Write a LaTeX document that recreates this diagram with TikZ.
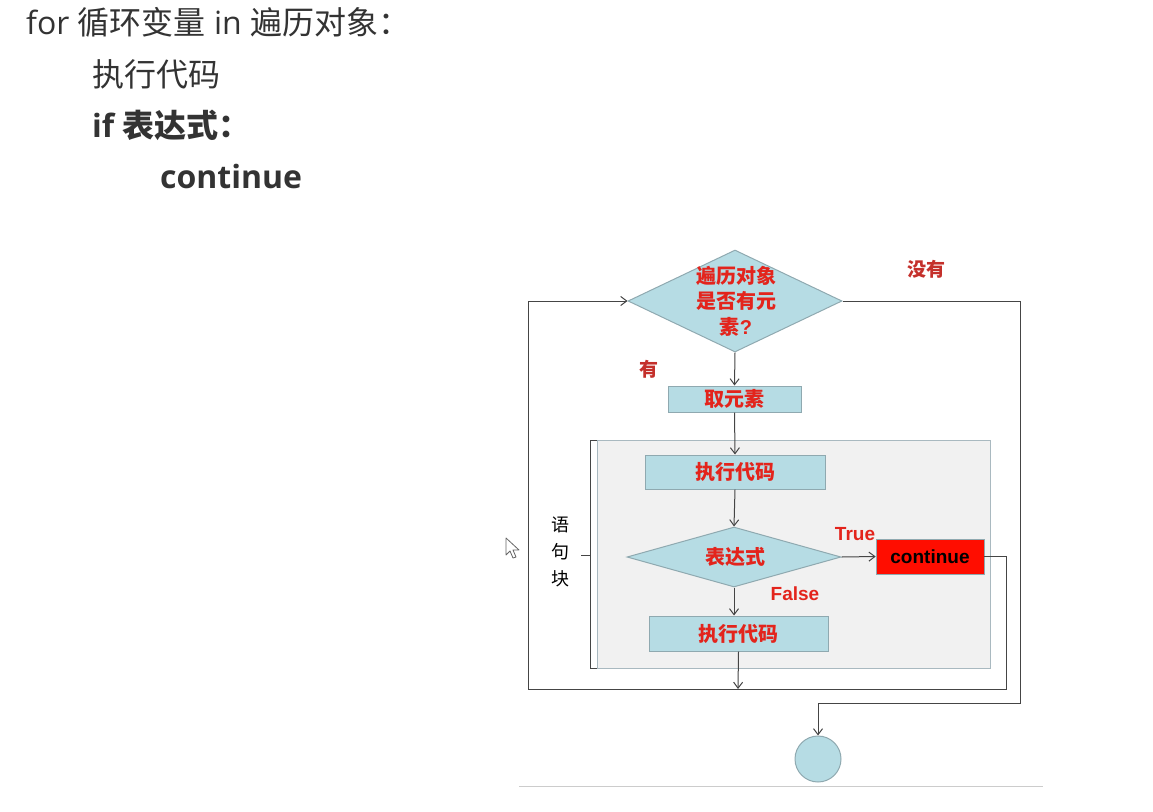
\documentclass[tikz,border=0pt]{standalone}
\usepackage{fontspec}
\setmainfont{Open Sans}
\newfontfamily\cjk{Noto Sans CJK SC}
\newfontfamily\arial{Liberation Sans}
\usetikzlibrary{shapes.geometric,arrows.meta}
\definecolor{boxfill}{HTML}{B6DCE4}
\definecolor{boxline}{HTML}{8FA9B0}
\definecolor{redtxt}{HTML}{E3241C}
\definecolor{darkred}{HTML}{C4302B}
\definecolor{lineg}{HTML}{454545}
\definecolor{blkfill}{HTML}{F1F1F1}
\definecolor{blkline}{HTML}{A9B9C0}
\definecolor{toptxt}{HTML}{333333}
\tikzset{
  procbox/.style={draw=boxline, fill=boxfill, line width=1pt, inner sep=0pt, font=\cjk\bfseries\fontsize{20}{24}\selectfont, text=redtxt},
  dia/.style={diamond, draw=boxline, fill=boxfill, line width=1pt, inner sep=0pt},
  arr/.style={draw=lineg, line width=1pt, -{Straight Barb[length=6pt,width=9pt]}},
  toptext/.style={anchor=west, text=toptxt, inner sep=0pt, font=\fontsize{32}{36}\selectfont},
  lbl/.style={inner sep=0pt}
}
\begin{document}
\begin{tikzpicture}[x=1pt,y=-1pt]
\useasboundingbox (0,0) rectangle (1153,811);
% top code text
\node[toptext] (l1) at (26,22) {for {\cjk 循环变量} in {\cjk 遍历对象：}};
\node[toptext] (l2) at (92,74) {\cjk 执行代码};
\node[toptext] (l3) at (92,125) {\bfseries if {\cjk\bfseries 表达式：}};
\node[toptext] (l4) at (160,176) {\bfseries continue};
% statement block background
\node[draw=blkline, fill=blkfill, line width=1pt, minimum width=393pt, minimum height=228pt, inner sep=0pt] (blk) at (793.5,554) {};
\draw[lineg, line width=1pt] (597,440) -- (590,440) -- (590,668) -- (597,668);
\draw[lineg, line width=1pt] (590,555) -- (581,555);
\node[lbl, font=\cjk\fontsize{18}{27}\selectfont, align=center] (yjk) at (560,552) {语\\句\\块};
% diamond 1
\node[dia, minimum width=214pt, minimum height=102pt] (d1) at (735,301) {};
\node[lbl, font=\cjk\bfseries\fontsize{20}{25.5}\selectfont, text=redtxt, align=center] (d1t) at (736,301) {遍历对象\\是否有元\\素{\arial\bfseries ?}};
\node[lbl, font=\cjk\bfseries\fontsize{19}{22}\selectfont, text=darkred] (nohave) at (926,269) {没有};
\node[lbl, font=\cjk\bfseries\fontsize{19}{22}\selectfont, text=darkred] (have) at (649,369) {有};
% get element
\node[procbox, minimum width=133pt, minimum height=26pt] (get) at (734.5,399) {取元素};
% exec 1
\node[procbox, minimum width=180pt, minimum height=34pt] (ex1) at (735,472) {执行代码};
% diamond 2
\node[dia, minimum width=214pt, minimum height=60pt] (d2) at (734,557) {};
\node[lbl, font=\cjk\bfseries\fontsize{20}{24}\selectfont, text=redtxt] (d2t) at (735,557) {表达式};
% continue
\node[draw=boxline, fill=red!90!orange, line width=0.6pt, minimum width=108pt, minimum height=35pt, inner sep=0pt, font=\arial\bfseries\fontsize{19}{22}\selectfont] (cont) at (930,556.5) {continue};
\node[lbl, font=\arial\bfseries\fontsize{19}{22}\selectfont, text=redtxt] (tru) at (855,534) {True};
\node[lbl, font=\arial\bfseries\fontsize{19}{22}\selectfont, text=redtxt] (fal) at (795,594) {False};
% exec 2
\node[procbox, minimum width=179pt, minimum height=35pt] (ex2) at (738.5,633.5) {执行代码};
% end circle
\node[circle, draw=boxline, fill=boxfill, line width=1pt, minimum size=46pt, inner sep=0pt] (endc) at (818,759) {};
% coordinates
\coordinate (bl) at (528,689);
\coordinate (br) at (1006,689);
\coordinate (bm) at (738,689);
\coordinate (r1) at (1020,703);
% connectors
\draw[arr] (d1.south) -- (get.north);
\draw[arr] (get.south) -- (ex1.north);
\draw[arr] (ex1.south) -- (d2.north);
\draw[arr] (d2.south) -- (d2.south |- ex2.north);
\draw[arr] (d2.east) -- (cont.west);
\draw[arr] (ex2.south) -- (bm);
\draw[arr] (cont.east) -| (br) -- (bl) |- (d1.west);
\draw[arr] (d1.east) -| (r1) -| (endc.north);
% bottom rule
\draw[draw=black!20, line width=1pt] (519,786) -- (1043,786);
% mouse cursor
\draw[draw=black!60, fill=white, line width=0.8pt, line join=round] (506,538) -- (506,555) -- (510,551) -- (513,558) -- (516,557) -- (513,550) -- (519,550) -- cycle;
\end{tikzpicture}
\end{document}
